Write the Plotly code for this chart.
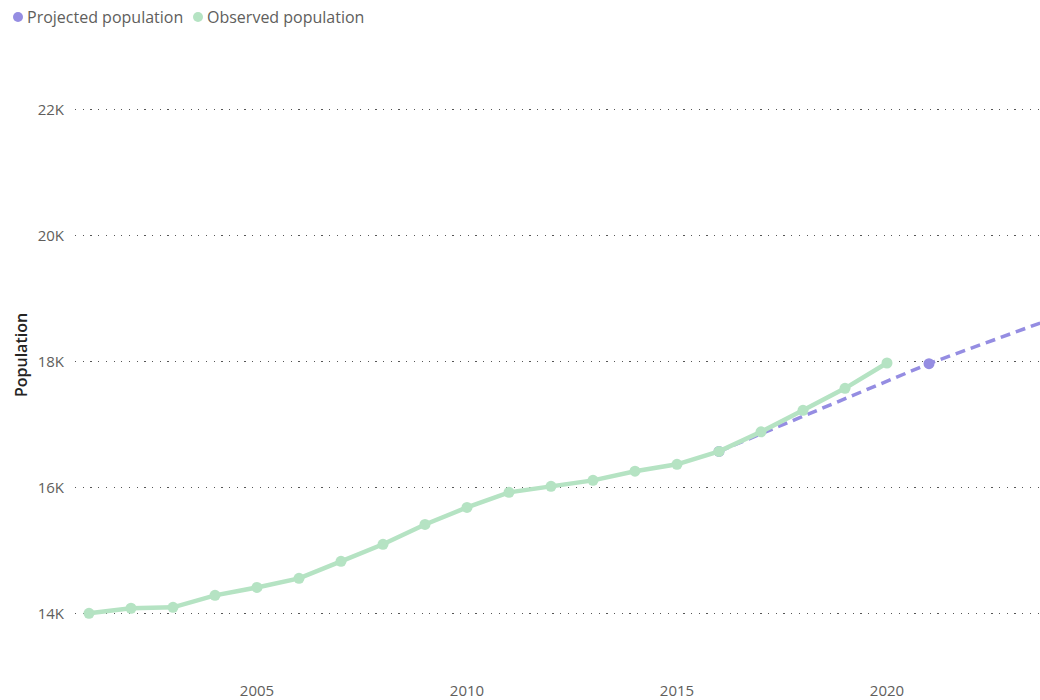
import plotly.graph_objects as go

obs_years = list(range(2001, 2021))
obs_pop = [14000, 14080, 14095, 14285, 14410, 14555, 14825, 15095, 15410, 15680,
           15920, 16015, 16110, 16255, 16365, 16570, 16880, 17222, 17571, 17973]

proj_years = [2016, 2021, 2026]
proj_pop = [16570, 17963, 19180]

y_ticks = [14000, 16000, 18000, 20000, 22000]
y_labels = ["14K", "16K", "18K", "20K", "22K"]
x_ticks = [2005, 2010, 2015, 2020]

series_names = ["Projected population", "Observed population"]

GREEN = "#B5E3C3"
PURPLE = "#958DE2"
FONT = "Segoe UI, Open Sans, sans-serif"

W, H = 1040, 700
ML, MR, MT, MB = 75, 0, 40, 30
PW, PH = W - ML - MR, H - MT - MB

fig = go.Figure()

fig.add_trace(go.Scatter(
    x=proj_years, y=proj_pop, mode="lines+markers", name=series_names[0],
    line=dict(color=PURPLE, width=3.5, dash="10px,6px"),
    marker=dict(color=PURPLE, size=11), showlegend=False))
fig.add_trace(go.Scatter(
    x=obs_years, y=obs_pop, mode="lines+markers", name=series_names[1],
    line=dict(color=GREEN, width=4.5),
    marker=dict(color=GREEN, size=11), showlegend=False))

x0 = 2001 - 14 / 42
x1 = x0 + PW / 42


def px_x(px):
    return (px - ML) / PW


def px_y(py):
    return (H - MB - py) / PH


# legend: circle symbol + label
legend_items = [(series_names[0], PURPLE, 18), (series_names[1], GREEN, 198)]
for name, col, cx in legend_items:
    fig.add_shape(type="circle", xref="paper", yref="paper",
                  xsizemode="pixel", ysizemode="pixel",
                  xanchor=px_x(cx), yanchor=px_y(17),
                  x0=-5, x1=5, y0=-5, y1=5,
                  fillcolor=col, line=dict(width=0), layer="above")
    fig.add_annotation(text=name, xref="paper", yref="paper", x=px_x(cx + 7), y=px_y(17),
                       xanchor="left", yanchor="middle", showarrow=False,
                       font=dict(size=16, color="#605E5C", family=FONT))

fig.update_layout(
    width=W, height=H,
    margin=dict(l=ML, r=MR, t=MT, b=MB),
    paper_bgcolor="white", plot_bgcolor="white",
    font=dict(family=FONT, color="#605E5C", size=15),
    showlegend=False,
    xaxis=dict(range=[x0, x1], tickvals=x_ticks, showgrid=False, zeroline=False,
               showline=False, ticks="", ticklabelstandoff=10,
               tickfont=dict(size=15, color="#605E5C")),
    yaxis=dict(range=[13100, 23100], tickvals=y_ticks, ticktext=y_labels,
               showgrid=True, gridcolor="#555555", gridwidth=1.2, griddash="1.2px,6.5px",
               zeroline=False, showline=False, ticks="", ticklabelstandoff=10,
               tickfont=dict(size=15, color="#605E5C"),
               title=dict(text="Population", standoff=6,
                          font=dict(size=16, color="#252423", family=FONT, weight=600))),
)

fig.write_html("out.html")
